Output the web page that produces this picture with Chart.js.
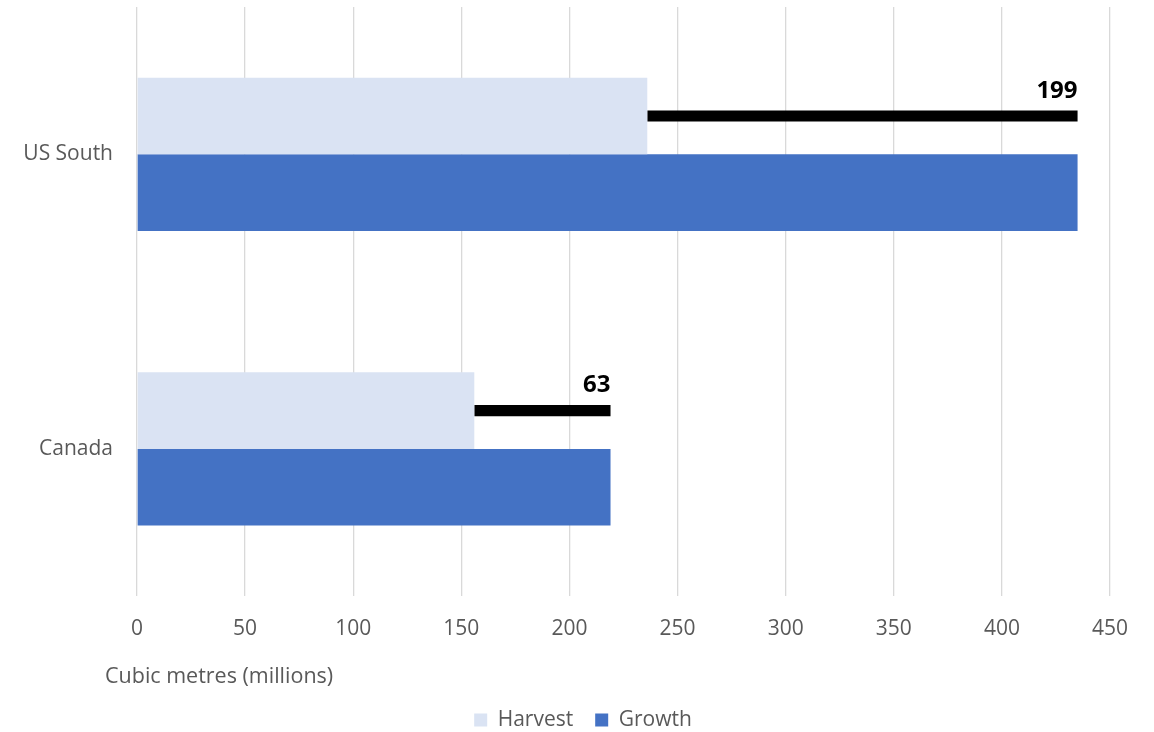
<!DOCTYPE html>
<html>
<head>
<meta charset="utf-8">
<script src="https://cdn.jsdelivr.net/npm/chart.js@4/dist/chart.umd.min.js"></script>
<style>
    html, body { margin: 0; padding: 0; background: #fff; }
    #wrap { width: 1154px; height: 732px; }
</style>
</head>
<body>
<div id="wrap"><canvas id="chart"></canvas></div>
<script>
// Chart data
const categories = ['US South', 'Canada'];
const harvest = [236, 156];
const growth = [435, 219];
const gap = [199, 63];
const xTickValues = [0, 50, 100, 150, 200, 250, 300, 350, 400, 450];
const axisTitle = 'Cubic metres (millions)';

const textColor = '#595959';
const fontFamily = "'Open Sans', sans-serif";

// Value labels above the end of each gap bar + left-shifted axis title
const extrasPlugin = {
    id: 'extras',
    afterLayout(chart) {
        // legend sits a little right of centre in the original
        chart.legend.left += 28;
        chart.legend.right += 28;
    },
    afterDatasetsDraw(chart) {
        const ctx = chart.ctx;
        ctx.save();
        ctx.fillStyle = '#000';
        ctx.font = "bold 24px " + fontFamily;
        ctx.textAlign = 'right';
        ctx.textBaseline = 'middle';
        chart.data.datasets.forEach(function(ds, di) {
            if (ds.label !== 'Gap') return;
            chart.getDatasetMeta(di).data.forEach(function(bar, i) {
                ctx.fillText(String(ds.data[i]), bar.x, bar.y - 25);
            });
        });
        ctx.restore();
    },
    afterDraw(chart) {
        const ctx = chart.ctx;
        ctx.save();
        ctx.fillStyle = textColor;
        ctx.font = "21.5px " + fontFamily;
        ctx.textAlign = 'left';
        ctx.textBaseline = 'middle';
        ctx.fillText(axisTitle, chart.chartArea.left - 32, 677);
        ctx.restore();
    }
};

new Chart(document.getElementById('chart'), {
    type: 'bar',
    data: {
        labels: categories,
        datasets: [
            {
                label: 'Harvest',
                data: harvest,
                stack: 'a',
                backgroundColor: '#DAE3F3',
                categoryPercentage: 0.52,
                barPercentage: 1.0
            },
            {
                // thin black bar stacked on the harvest bar = growth minus harvest
                label: 'Gap',
                data: gap,
                stack: 'a',
                backgroundColor: '#000',
                categoryPercentage: 0.52,
                barPercentage: 0.145
            },
            {
                label: 'Growth',
                data: growth,
                stack: 'b',
                backgroundColor: '#4472C4',
                categoryPercentage: 0.52,
                barPercentage: 1.0
            }
        ]
    },
    options: {
        indexAxis: 'y',
        responsive: true,
        maintainAspectRatio: false,
        animation: false,
        layout: { padding: { left: 0, right: 44, top: 7, bottom: -8.5 } },
        scales: {
            x: {
                type: 'linear',
                min: 0,
                max: 450,
                afterBuildTicks: function(scale) {
                    scale.ticks = xTickValues.map(v => ({ value: v }));
                },
                afterFit: function(scale) { scale.height = 91.3; },
                grid: { color: '#D9D9D9', lineWidth: 1.3, drawTicks: false },
                border: { display: false },
                ticks: {
                    padding: 20,
                    color: textColor,
                    font: { family: fontFamily, size: 21 }
                }
            },
            y: {
                type: 'category',
                afterFit: function(scale) {
                    scale.width = 137;
                    scale.paddingTop = 0;
                    scale.paddingBottom = 0;
                },
                grid: { display: false, drawTicks: false },
                border: { display: false },
                ticks: {
                    padding: 24,
                    color: textColor,
                    font: { family: fontFamily, size: 21 }
                }
            }
        },
        plugins: {
            legend: {
                position: 'bottom',
                labels: {
                    boxWidth: 13,
                    boxHeight: 13,
                    padding: 22,
                    color: textColor,
                    font: { family: fontFamily, size: 21 },
                    filter: item => item.text !== 'Gap'
                }
            },
            tooltip: { enabled: false }
        }
    },
    plugins: [extrasPlugin]
});
</script>
</body>
</html>
